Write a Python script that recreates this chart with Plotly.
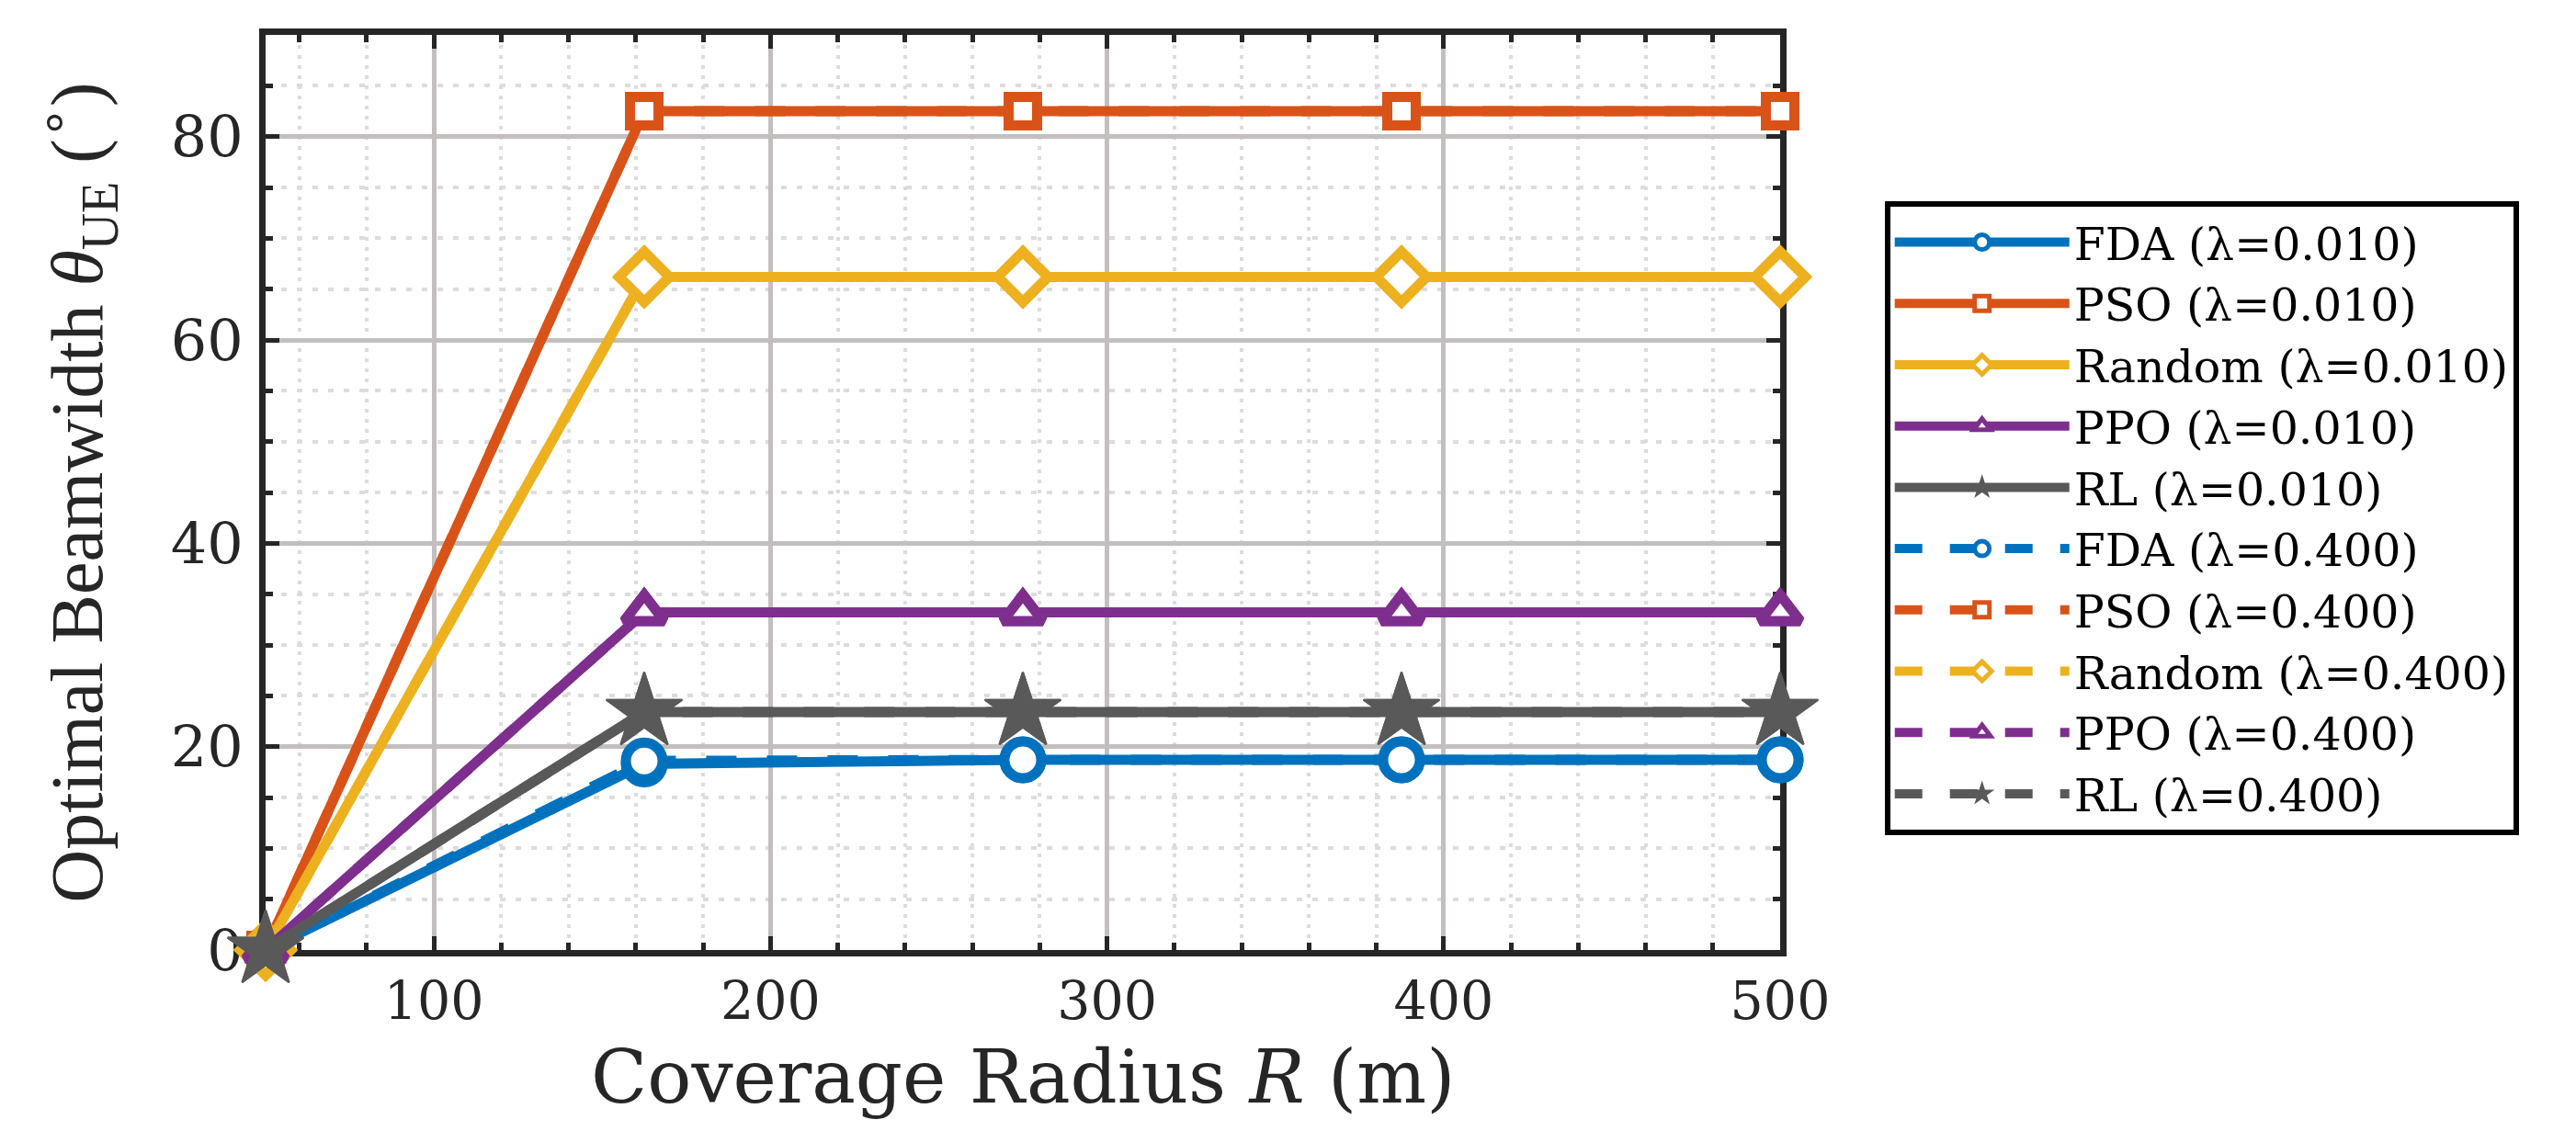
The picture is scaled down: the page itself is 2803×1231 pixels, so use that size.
import plotly.graph_objects as go

# ---- data ----
radius = [50, 162.5, 275, 387.5, 500]

fda_l010 = [0, 18.3, 18.7, 18.7, 18.7]
pso_l010 = [0, 82.5, 82.5, 82.5, 82.5]
random_l010 = [0, 66.2, 66.2, 66.2, 66.2]
ppo_l010 = [0, 33.2, 33.2, 33.2, 33.2]
rl_l010 = [0, 23.4, 23.4, 23.4, 23.4]

fda_l400 = [0, 18.6, 18.7, 18.7, 18.7]
pso_l400 = [0, 82.5, 82.5, 82.5, 82.5]
random_l400 = [0, 66.2, 66.2, 66.2, 66.2]
ppo_l400 = [0, 33.2, 33.2, 33.2, 33.2]
rl_l400 = [0, 23.4, 23.4, 23.4, 23.4]

x_tickvals = [100, 200, 300, 400, 500]
y_tickvals = [0, 20, 40, 60, 80]
x_range = [50, 500]
y_range = [0, 90]

series = [
    ("FDA", "0.010", fda_l010),
    ("PSO", "0.010", pso_l010),
    ("Random", "0.010", random_l010),
    ("PPO", "0.010", ppo_l010),
    ("RL", "0.010", rl_l010),
    ("FDA", "0.400", fda_l400),
    ("PSO", "0.400", pso_l400),
    ("Random", "0.400", random_l400),
    ("PPO", "0.400", ppo_l400),
    ("RL", "0.400", rl_l400),
]

# ---- styles ----
colors = {"FDA": "#0072BD", "PSO": "#D95319", "Random": "#EDB120",
          "PPO": "#7E2F8E", "RL": "#595959"}
symbols = {"FDA": "circle", "PSO": "square", "Random": "diamond",
           "PPO": "triangle-up", "RL": "star"}
msizes = {"FDA": 40, "PSO": 31, "Random": 42, "PPO": 38, "RL": 62}
dashes = {"0.010": "solid", "0.400": "dash"}

fig = go.Figure()
for name, lam, vals in series:
    c = colors[name]
    filled = name == "RL"
    fig.add_trace(go.Scatter(
        x=radius, y=vals, mode="lines+markers",
        name=f"{name} (\u03bb={lam})",
        line=dict(color=c, width=11, dash=dashes[lam]),
        marker=dict(symbol=symbols[name], size=msizes[name],
                    color=c if filled else "white",
                    line=dict(color=c, width=2 if filled else 11)),
        cliponaxis=False,
    ))

axis_col = "#262626"
common = dict(
    showline=True, linewidth=7, linecolor=axis_col, mirror="ticks",
    ticks="inside", ticklen=15, tickwidth=5, tickcolor=axis_col,
    showgrid=True, gridcolor="#C3BFBF", gridwidth=5,
    zeroline=False, layer="below traces",
)

fig.update_layout(
    width=2803, height=1231,
    margin=dict(l=289, r=866, t=38, b=197),
    paper_bgcolor="white", plot_bgcolor="white",
    showlegend=True,
    legend=dict(
        x=1.069, y=0.818, xanchor="left", yanchor="top",
        bordercolor="#000000", borderwidth=6, bgcolor="white",
        font=dict(family="DejaVu Serif", size=49, color="#000000"),
        tracegroupgap=0, itemwidth=190,
    ),
    xaxis=dict(
        range=x_range, tickvals=x_tickvals, **common,
        tickfont=dict(family="DejaVu Serif", size=57, color=axis_col),
        minor=dict(tick0=0, dtick=20, ticks="inside", ticklen=8, tickwidth=5,
                   tickcolor=axis_col, showgrid=True, gridcolor="#DCDCDC",
                   gridwidth=4, griddash="4px,7px"),
    ),
    yaxis=dict(
        range=y_range, tickvals=y_tickvals, **common,
        ticklabelstandoff=5,
        tickfont=dict(family="DejaVu Serif", size=62, color=axis_col),
        minor=dict(tick0=0, dtick=5, ticks="inside", ticklen=8, tickwidth=5,
                   tickcolor=axis_col, showgrid=True, gridcolor="#DCDCDC",
                   gridwidth=4, griddash="6px,11px"),
        title=dict(text="Optimal Beamwidth <i>\u03b8</i><sub>UE</sub> (<sup>\u2218</sup>)",
                   standoff=50,
                   font=dict(family="Liberation Serif", size=80, color=axis_col)),
    ),
    annotations=[dict(
        text="Coverage Radius <i>R</i> (m)", xref="paper", yref="paper",
        x=0.5, y=-0.1386, xanchor="center", yanchor="middle", showarrow=False,
        font=dict(family="DejaVu Serif", size=80, color=axis_col),
    )],
)

fig.write_html("out.html")
